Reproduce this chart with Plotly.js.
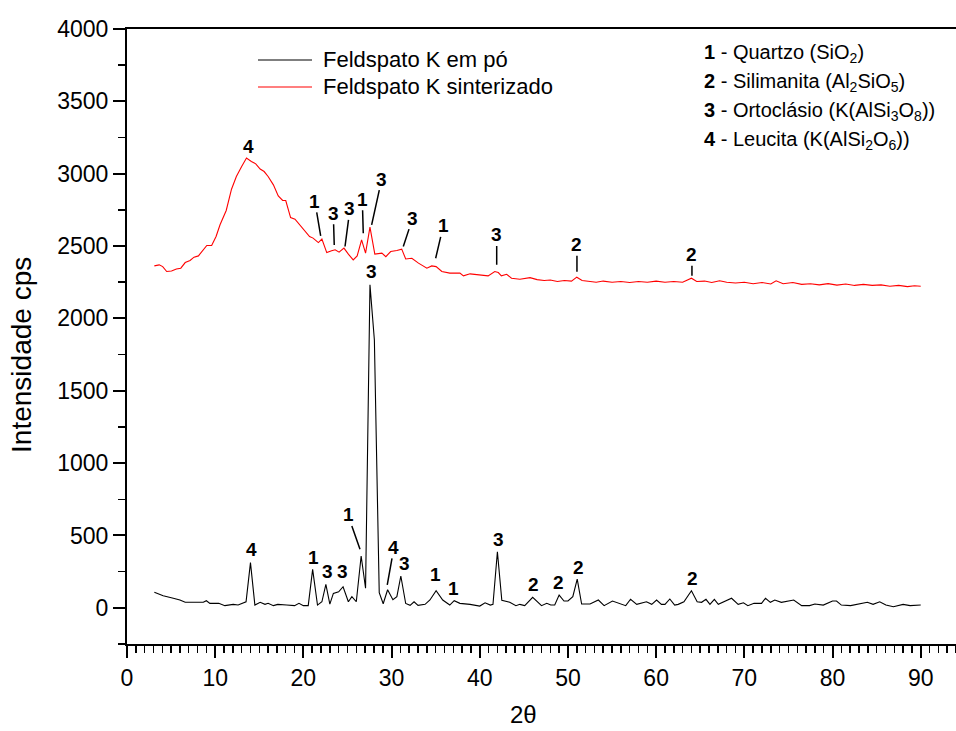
<!DOCTYPE html>
<html>
<head>
<meta charset="utf-8">
<script src="https://cdn.plot.ly/plotly-3.0.1.min.js"></script>
<style>body{margin:0;padding:0;background:#fff;}#chart{width:956px;height:731px;}</style>
</head>
<body>
<div id="chart"></div>
<script>
// ---- Data ----
const powderX = [3.1,4.1,5.25,6.0,6.6,8.65,9.0,9.4,10.4,11.1,12.05,12.6,13.5,14.0,14.5,15.1,15.65,16.0,16.6,17.1,18.1,19.0,19.5,20.0,20.55,21.05,21.6,22.1,22.55,23.0,23.4,24.0,24.5,25.1,25.5,26.0,26.55,27.05,27.55,28.05,28.6,29.05,29.55,30.15,30.6,31.05,31.6,32.1,32.55,33.0,33.8,34.35,35.05,35.8,36.6,37.1,37.75,38.9,40.0,40.6,41.2,41.5,42.0,42.5,43.4,44.1,44.55,45.1,46.0,47.0,47.6,48.05,48.5,49.0,49.55,50.0,50.55,51.05,51.55,52.5,53.45,54.1,55.05,55.7,56.55,57.1,57.8,58.9,59.5,60.05,60.6,61.0,61.55,62.1,62.5,63.15,64.0,64.65,65.15,65.65,66.1,66.6,67.05,68.55,69.3,69.9,70.4,71.1,71.95,72.4,72.95,73.45,74.2,75.6,76.5,77.4,78.0,78.95,80.0,80.45,81.0,82.05,82.9,83.95,84.6,85.35,86.05,86.9,88.0,88.8,90.0];
const powderY = [107,84,66,54,38,38,49,31,31,15,24,20,42,312,19,38,24,31,15,24,20,15,31,15,15,266,19,42,162,26,100,111,146,42,77,42,358,135,2232,1851,104,28,125,56,77,220,30,17,42,17,24,54,118,54,19,49,31,24,12,35,19,24,388,52,38,15,24,15,73,15,31,19,19,88,47,47,77,199,26,26,54,15,47,35,15,59,24,42,24,54,24,24,61,19,24,42,118,42,38,59,24,59,24,66,24,35,15,31,31,66,38,54,38,54,15,15,26,19,47,47,19,15,24,38,24,42,19,8,24,15,19];

const sinterX = [3.1,3.65,4.05,4.5,5.05,5.6,6.1,6.6,7.15,7.6,8.1,8.6,9.05,9.6,10.1,10.55,11.25,11.85,12.4,13.0,13.55,14.1,14.6,15.1,15.55,16.0,16.6,17.15,17.65,18.0,18.55,19.05,19.6,20.2,20.7,21.1,21.7,22.1,22.65,23.2,23.6,24.05,24.6,25.1,25.65,26.1,26.6,27.05,27.55,28.1,28.9,29.35,29.9,30.6,31.15,31.6,32.3,33.05,34.0,34.55,35.05,35.7,36.6,37.75,38.15,38.9,39.85,40.95,41.7,42.1,42.45,43.05,43.6,44.55,45.7,46.5,47.3,48.0,48.8,49.6,50.4,51.0,51.6,52.4,53.2,54.0,55.0,56.0,57.0,58.0,59.0,60.0,61.0,62.0,63.0,64.0,64.6,65.5,66.3,67.2,68.0,69.0,70.0,71.0,72.0,73.0,73.6,74.4,75.5,76.5,77.5,78.5,79.5,80.5,81.5,82.5,83.5,84.5,85.5,86.5,87.5,88.5,89.3,90.0];
const sinterY = [2363,2370,2358,2324,2328,2342,2347,2386,2400,2423,2432,2469,2504,2504,2566,2647,2746,2893,2981,3050,3108,3084,3068,3032,3015,2981,2923,2847,2815,2815,2697,2686,2647,2605,2566,2555,2524,2548,2455,2467,2474,2458,2486,2444,2404,2432,2543,2451,2631,2444,2451,2427,2462,2469,2479,2411,2416,2382,2347,2363,2358,2324,2313,2313,2294,2308,2301,2294,2324,2317,2294,2305,2278,2271,2282,2268,2262,2265,2255,2262,2258,2285,2262,2258,2250,2258,2250,2255,2248,2255,2250,2258,2250,2255,2250,2278,2255,2258,2248,2260,2250,2245,2250,2240,2248,2238,2260,2240,2248,2235,2240,2232,2240,2230,2238,2228,2235,2228,2232,2222,2228,2220,2226,2222];

const seriesNames = ["Feldspato K em pó", "Feldspato K sinterizado"];
const seriesColors = ["#000000", "#ff0000"];

// Peak labels: text position (labelX, labelY); leader tip (tipX, tipY) or null
const labelText = ["4","1","3","3","1","3","3","1","3","2","2",
                   "4","1","3","3","1","4","3","3","1","1","3","2","2","2","2"];
const labelX = [13.72,21.3,23.39,25.28,26.68,28.88,32.39,35.86,41.92,51.02,64.06,
                14.06,21.09,22.68,24.38,25.06,30.27,31.52,27.74,35.03,37.0,42.1,46.07,48.98,51.25,64.14];
const labelY = [3186,2808,2727,2757,2824,2963,2693,2640,2577,2509,2440,
                400,351,248,248,642,418,303,2324,227,135,469,158,174,280,204];
const tipX = [null,21.96,23.5,24.72,26.79,27.74,31.33,35.0,41.92,51.02,64.06,
              null,null,null,null,26.42,29.51,null,null,null,null,null,null,null,null,null];
const tipY = [null,2571,2508,2497,2589,2646,2497,2416,2370,2322,2294,
              null,null,null,null,404,158,null,null,null,null,null,null,null,null,null];

const phaseNum = ["1","2","3","4"];
const phaseName = ["Quartzo (SiO<sub>2</sub>)", "Silimanita (Al<sub>2</sub>SiO<sub>5</sub>)",
                   "Ortoclásio (K(AlSi<sub>3</sub>O<sub>8</sub>))", "Leucita (K(AlSi<sub>2</sub>O<sub>6</sub>))"];

const xTitle = "2θ";
const yTitle = "Intensidade cps";

// ---- Chart ----
const FONT = "Liberation Sans, Arial, Helvetica, sans-serif";

const traces = [
  {x: powderX, y: powderY, name: seriesNames[0], mode: "lines", type: "scatter",
   line: {color: seriesColors[0], width: 1.1}, showlegend: false},
  {x: sinterX, y: sinterY, name: seriesNames[1], mode: "lines", type: "scatter",
   line: {color: seriesColors[1], width: 1.1}, showlegend: false}
];

const annotations = [];
for (let i = 0; i < labelText.length; i++) {
  const t = "<b>" + labelText[i] + "</b>";
  if (tipX[i] === null) {
    annotations.push({x: labelX[i], y: labelY[i], xref: "x", yref: "y", text: t,
      showarrow: false, font: {family: FONT, size: 19, color: "#000"}});
  } else {
    annotations.push({x: tipX[i], y: tipY[i], ax: labelX[i], ay: labelY[i],
      xref: "x", yref: "y", axref: "x", ayref: "y", text: t,
      showarrow: true, arrowhead: 0, arrowwidth: 1.5, arrowcolor: "#000",
      standoff: 0, startstandoff: 0, borderpad: 0,
      font: {family: FONT, size: 19, color: "#000"}});
  }
}
// phase key (top right)
const phaseY = [0.9596, 0.9124, 0.8653, 0.8181];
for (let i = 0; i < phaseNum.length; i++) {
  annotations.push({xref: "paper", yref: "paper", x: 0.6936, y: phaseY[i],
    xanchor: "left", yanchor: "middle", showarrow: false, align: "left",
    text: "<b>" + phaseNum[i] + "</b> - " + phaseName[i],
    font: {family: FONT, size: 20, color: "#000"}});
}
// legend (drawn as key lines + labels)
const legendY = [0.9496, 0.9057];
const shapes = [];
for (let i = 0; i < seriesNames.length; i++) {
  shapes.push({type: "line", xref: "paper", yref: "paper",
    x0: 0.158, x1: 0.2232, y0: legendY[i], y1: legendY[i],
    line: {color: seriesColors[i], width: 1.1}});
  annotations.push({xref: "paper", yref: "paper", x: 0.2335, y: legendY[i],
    xanchor: "left", yanchor: "middle", showarrow: false, text: seriesNames[i],
    font: {family: FONT, size: 22, color: "#000"}});
}
// axis titles
annotations.push({xref: "paper", yref: "paper", x: -0.1267, y: 0.47,
  xanchor: "center", yanchor: "middle", textangle: -90, showarrow: false,
  text: yTitle, font: {family: FONT, size: 28, color: "#000"}});
annotations.push({xref: "paper", yref: "paper", x: 0.4777, y: -0.1154,
  xanchor: "center", yanchor: "middle", showarrow: false, borderpad: 0,
  text: xTitle, font: {family: FONT, size: 24, color: "#000"}});

const layout = {
  width: 956, height: 731,
  margin: {l: 127, r: 0, t: 29, b: 87},
  paper_bgcolor: "#fff", plot_bgcolor: "#fff",
  font: {family: FONT, color: "#000"},
  showlegend: false,
  xaxis: {range: [0, 94], showgrid: false, zeroline: false,
          showline: true, linewidth: 2, linecolor: "#000", mirror: true,
          ticks: "outside", ticklen: 12, tickwidth: 2, tickcolor: "#000",
          tick0: 0, dtick: 10,
          minor: {dtick: 1, ticks: "outside", ticklen: 7, tickwidth: 1.5, tickcolor: "#000"},
          tickfont: {family: FONT, size: 23, color: "#000"}},
  yaxis: {range: [-250, 4000], showgrid: false, zeroline: false, automargin: false,
          showline: true, linewidth: 2, linecolor: "#000",
          ticks: "outside", ticklen: 12, tickwidth: 2, tickcolor: "#000",
          tick0: 0, dtick: 500,
          minor: {dtick: 250, ticks: "outside", ticklen: 7, tickwidth: 1.5, tickcolor: "#000"},
          tickfont: {family: FONT, size: 23, color: "#000"}},
  shapes: shapes,
  annotations: annotations
};

Plotly.newPlot("chart", traces, layout, {displayModeBar: false, staticPlot: true});
</script>
</body>
</html>
